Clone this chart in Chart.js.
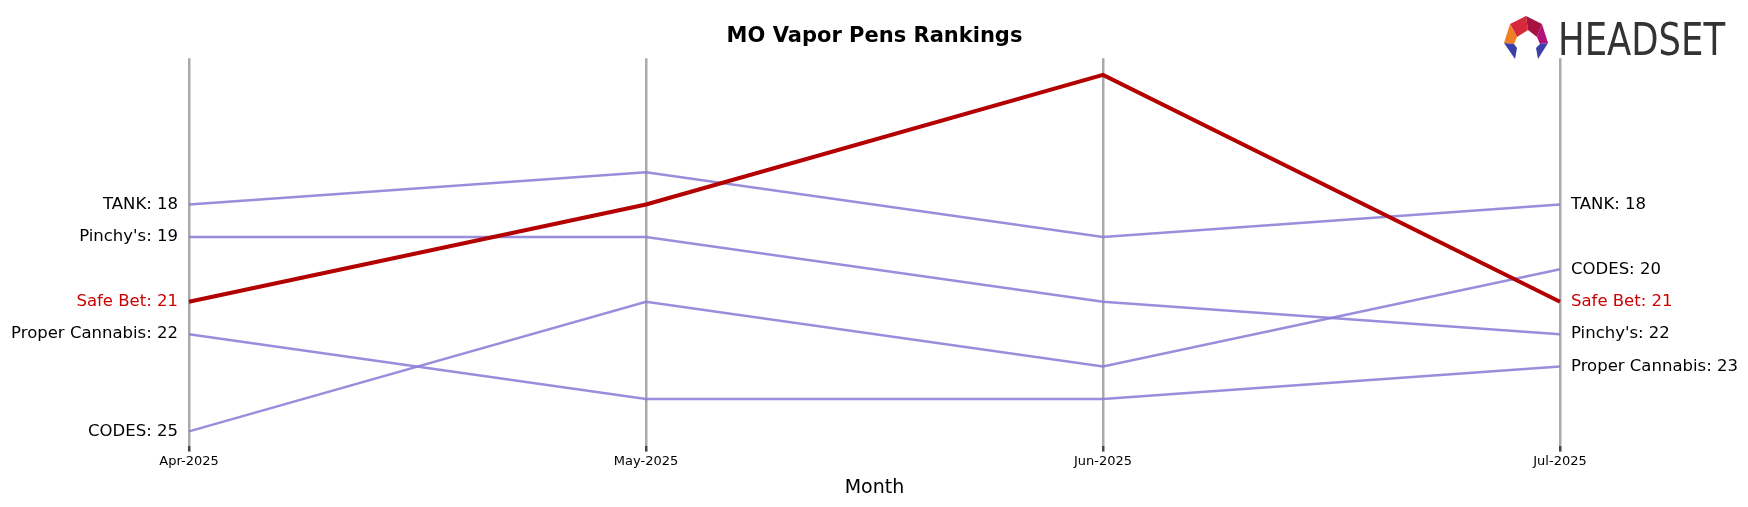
<!DOCTYPE html>
<html><head><meta charset="utf-8">
<script src="https://cdn.jsdelivr.net/npm/chart.js@4"></script>
<style>html,body{margin:0;padding:0;background:#fff}#w{width:1748px;height:507px;position:relative}</style>
</head><body><div id="w"><canvas id="c"></canvas></div>
<script>
const months = ['Apr-2025','May-2025','Jun-2025','Jul-2025'];
const brands = ['TANK','Pinchy\'s','Safe Bet','Proper Cannabis','CODES'];
const tank = [18,17,19,18];
const pinchys = [19,19,21,22];
const safeBet = [21,18,14,21];
const proper = [22,24,24,23];
const codes = [25,21,23,20];
const seriesVals = [tank,pinchys,safeBet,proper,codes];
const highlight = 'Safe Bet';

const purple = 'rgba(140,125,215,0.88)';
const red = '#b30000';

const datasets = brands.map((b,i)=>({
  label:b, data:seriesVals[i],
  borderColor: b===highlight?red:purple,
  borderWidth: b===highlight?4:2.5,
  pointRadius:0, tension:0, order: b===highlight?0:1
}));

const labelPlugin = {
  id:'lbl',
  afterDatasetsDraw(chart){
    const ctx=chart.ctx, x=chart.scales.x, y=chart.scales.y;
    ctx.save();
    ctx.font='16.5px "DejaVu Sans"';
    ctx.textBaseline='middle';
    chart.data.datasets.forEach(ds=>{
      const col = ds.label===highlight?'#cc0000':'#000';
      ctx.fillStyle=col;
      const d=ds.data;
      if(d[0]!=null){ctx.textAlign='right';ctx.fillText(ds.label+': '+d[0], x.getPixelForValue(0)-11, y.getPixelForValue(d[0]));}
      const n=d.length-1;
      if(d[n]!=null){ctx.textAlign='left';ctx.fillText(ds.label+': '+d[n], x.getPixelForValue(n)+11, y.getPixelForValue(d[n]));}
    });
    // logo
    const pts=(arr,c)=>{ctx.fillStyle=c;ctx.beginPath();arr.forEach((p,i)=>i?ctx.lineTo(p[0],p[1]):ctx.moveTo(p[0],p[1]));ctx.closePath();ctx.fill();};
    pts([[1510,24],[1526,16],[1528,30],[1517,37]],'#d42a3a');
    pts([[1526,16],[1542,24],[1537,37],[1528,30]],'#a8123f');
    pts([[1510,24],[1517,37],[1514,44],[1504,43]],'#f07f24');
    pts([[1542,24],[1548,43],[1540,44],[1537,37]],'#b0127a');
    pts([[1504,43],[1514,44],[1517,48],[1515,59]],'#3b3fa8');
    pts([[1548,43],[1540,44],[1536,48],[1538,59]],'#3b3fa8');
    ctx.fillStyle='#333';
    ctx.font='45px "DejaVu Sans Condensed","DejaVu Sans"';
    ctx.textAlign='left';ctx.textBaseline='alphabetic';
    const w=ctx.measureText('HEADSET').width;
    ctx.save();ctx.translate(1558,55);ctx.scale(167/w,1);ctx.fillText('HEADSET',0,0);ctx.restore();
    ctx.restore();
  }
};

new Chart(document.getElementById('c'),{
  type:'line',
  data:{labels:months,datasets},
  options:{
    responsive:true,maintainAspectRatio:false,animation:false,
    layout:{padding:{left:189,right:188,top:0,bottom:4}},
    plugins:{legend:{display:false},tooltip:{enabled:false},
      title:{display:true,text:'MO Vapor Pens Rankings',font:{size:21,weight:'bold',family:'DejaVu Sans'},color:'#000',padding:{top:24,bottom:9}}},
    scales:{
      x:{offset:false,grid:{color:'#aaa',lineWidth:2.5,drawTicks:true,tickLength:6,tickColor:'#444'},border:{display:false},
        ticks:{color:'#000',font:{size:13,family:'DejaVu Sans'},maxRotation:0,padding:2},
        title:{display:true,text:'Month',color:'#000',font:{size:19,family:'DejaVu Sans'},padding:{top:5}}},
      y:{reverse:true,min:13.483,max:25.44,display:false}
    }
  },
  plugins:[labelPlugin]
});
</script></body></html>
